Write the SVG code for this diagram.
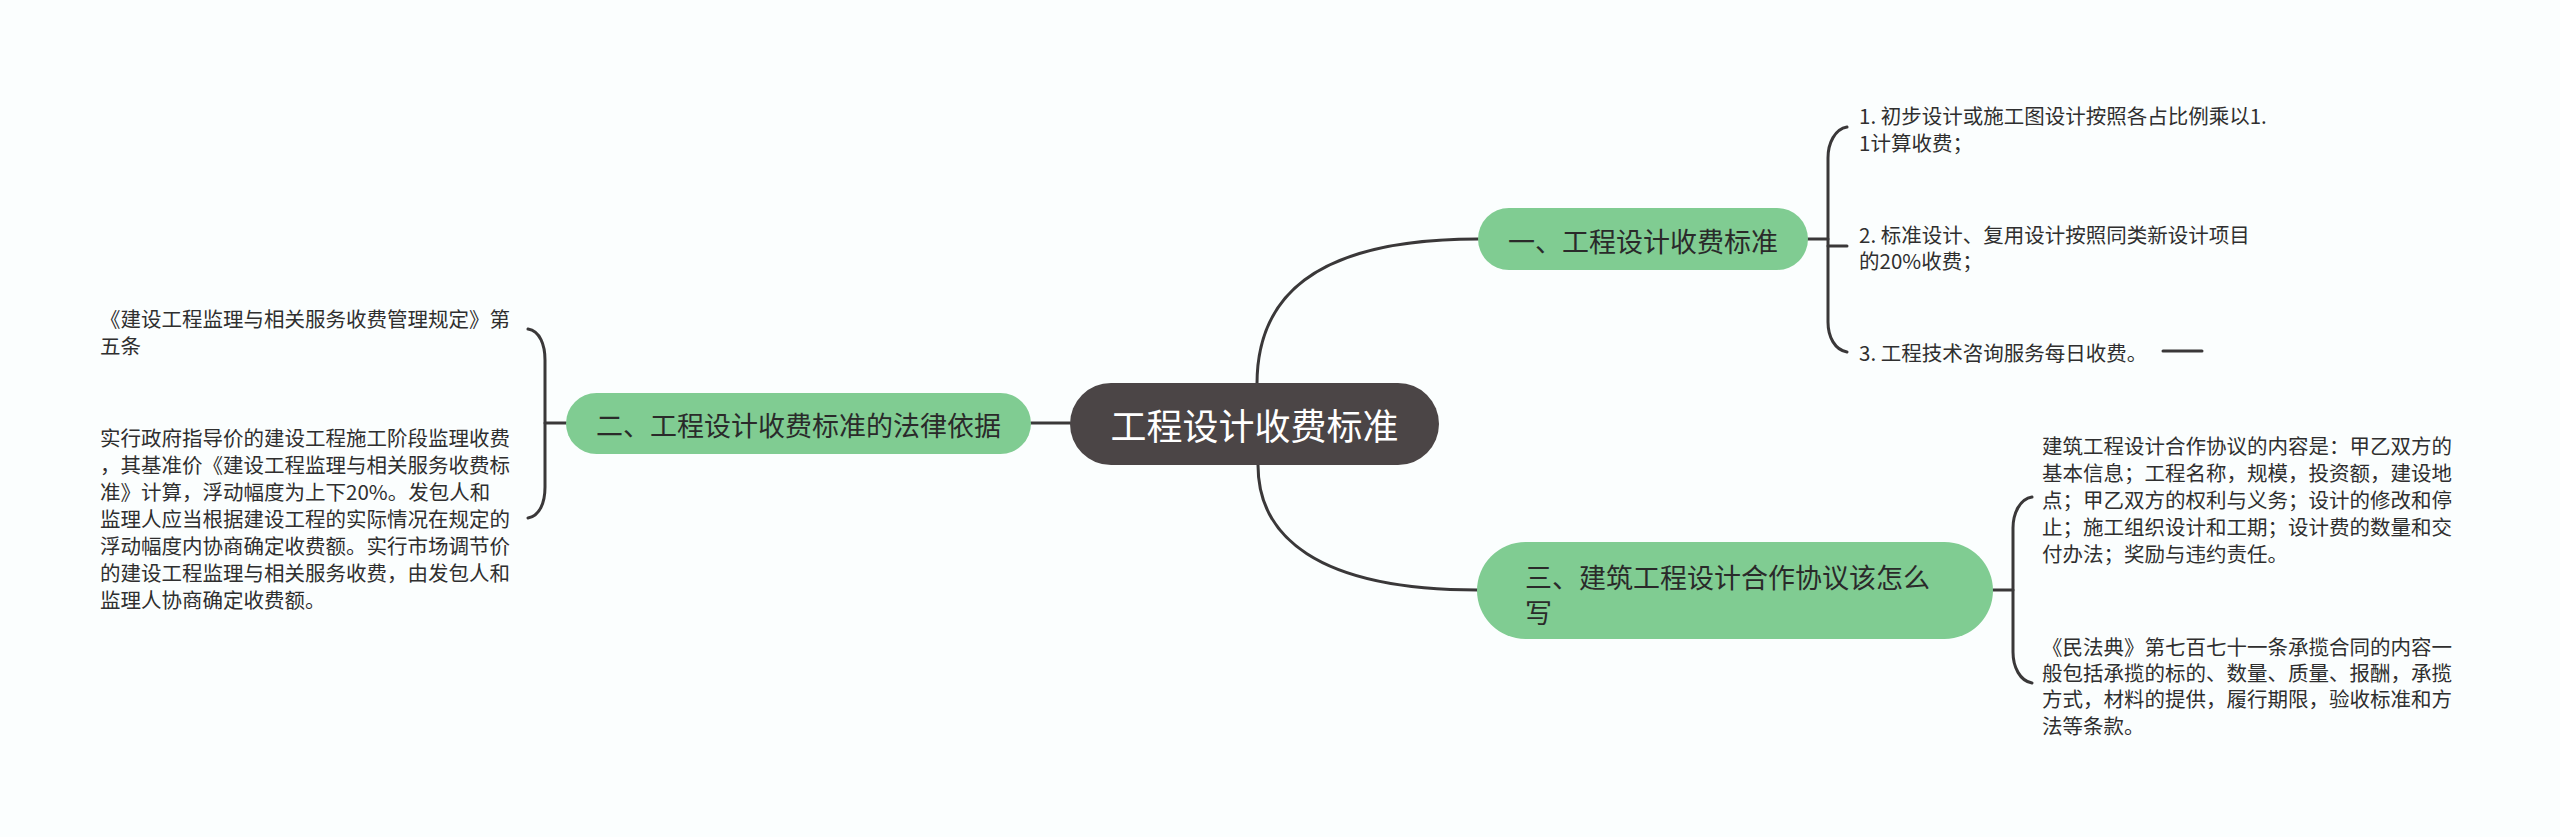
<svg xmlns="http://www.w3.org/2000/svg" width="2560" height="837" viewBox="0 0 2560 837">
<style>
text{font-family:"Noto Sans CJK SC","Noto Sans",sans-serif;dominant-baseline:central}
.c{fill:none;stroke:#3a3839;stroke-width:3;stroke-linecap:round}
.g{fill:#80cc92}
.t1{font-size:27px;fill:#2a2a2a}
.s{font-size:20.5px;fill:#2f2f2f}
</style>
<rect width="2560" height="837" fill="#fbfefe"/>
<g id="connectors">
<path class="c" d="M1257 384 C1257 300 1310 239 1478 239"/>
<path class="c" d="M1258 465 C1258 535 1315 590 1478 590"/>
<path class="c" d="M1031 423 L1070 423"/>
<path class="c" d="M566 423 L545 423"/>
<path class="c" d="M528 329 C540 331 545 345 545 360 L545 487 C545 502 540 516 528 518"/>
<path class="c" d="M1808 239 L1828 239"/>
<path class="c" d="M1847 127 C1835 129 1828 143 1828 158 L1828 322 C1828 337 1835 350 1847 352"/>
<path class="c" d="M1828 246 L1847 246"/>
<path class="c" d="M2163 351 L2202 351"/>
<path class="c" d="M1993 590 L2013 590"/>
<path class="c" d="M2032 497 C2020 499 2013 513 2013 528 L2013 652 C2013 667 2020 681 2032 683"/>
</g>
<g id="root">
<rect x="1070" y="383" width="369" height="82" rx="41" fill="#4b4546"/>
<text x="1254.5" y="424" text-anchor="middle" font-size="36" fill="#ffffff">工程设计收费标准</text>
</g>
<g id="n1">
<rect class="g" x="1478" y="208" width="330" height="62" rx="31"/>
<text class="t1" x="1643" y="240" text-anchor="middle">一、工程设计收费标准</text>
</g>
<g id="n2">
<rect class="g" x="566" y="393" width="465" height="61" rx="30.5"/>
<text class="t1" x="798.5" y="424" text-anchor="middle">二、工程设计收费标准的法律依据</text>
</g>
<g id="n3">
<rect class="g" x="1477" y="542" width="516" height="97" rx="48.5"/>
<text class="t1" x="1525" y="576">三、建筑工程设计合作协议该怎么</text>
<text class="t1" x="1525" y="611">写</text>
</g>
<g id="n1a">
<text class="s" x="1859" y="115">1. 初步设计或施工图设计按照各占比例乘以1.</text>
<text class="s" x="1859" y="142">1计算收费；</text>
</g>
<g id="n1b">
<text class="s" x="1859" y="234">2. 标准设计、复用设计按照同类新设计项目</text>
<text class="s" x="1859" y="260">的20%收费；</text>
</g>
<g id="n1c">
<text class="s" x="1859" y="352">3. 工程技术咨询服务每日收费。</text>
</g>
<g id="n2a">
<text class="s" x="100" y="318">《建设工程监理与相关服务收费管理规定》第</text>
<text class="s" x="100" y="345">五条</text>
</g>
<g id="n2b">
<text class="s" x="100" y="437">实行政府指导价的建设工程施工阶段监理收费</text>
<text class="s" x="100" y="464">，其基准价《建设工程监理与相关服务收费标</text>
<text class="s" x="100" y="491">准》计算，浮动幅度为上下20%。发包人和</text>
<text class="s" x="100" y="518">监理人应当根据建设工程的实际情况在规定的</text>
<text class="s" x="100" y="545">浮动幅度内协商确定收费额。实行市场调节价</text>
<text class="s" x="100" y="572">的建设工程监理与相关服务收费，由发包人和</text>
<text class="s" x="100" y="599">监理人协商确定收费额。</text>
</g>
<g id="n3a">
<text class="s" x="2042" y="445">建筑工程设计合作协议的内容是：甲乙双方的</text>
<text class="s" x="2042" y="472">基本信息；工程名称，规模，投资额，建设地</text>
<text class="s" x="2042" y="499">点；甲乙双方的权利与义务；设计的修改和停</text>
<text class="s" x="2042" y="526">止；施工组织设计和工期；设计费的数量和交</text>
<text class="s" x="2042" y="553">付办法；奖励与违约责任。</text>
</g>
<g id="n3b">
<text class="s" x="2042" y="646">《民法典》第七百七十一条承揽合同的内容一</text>
<text class="s" x="2042" y="672">般包括承揽的标的、数量、质量、报酬，承揽</text>
<text class="s" x="2042" y="698">方式，材料的提供，履行期限，验收标准和方</text>
<text class="s" x="2042" y="725">法等条款。</text>
</g>
</svg>
